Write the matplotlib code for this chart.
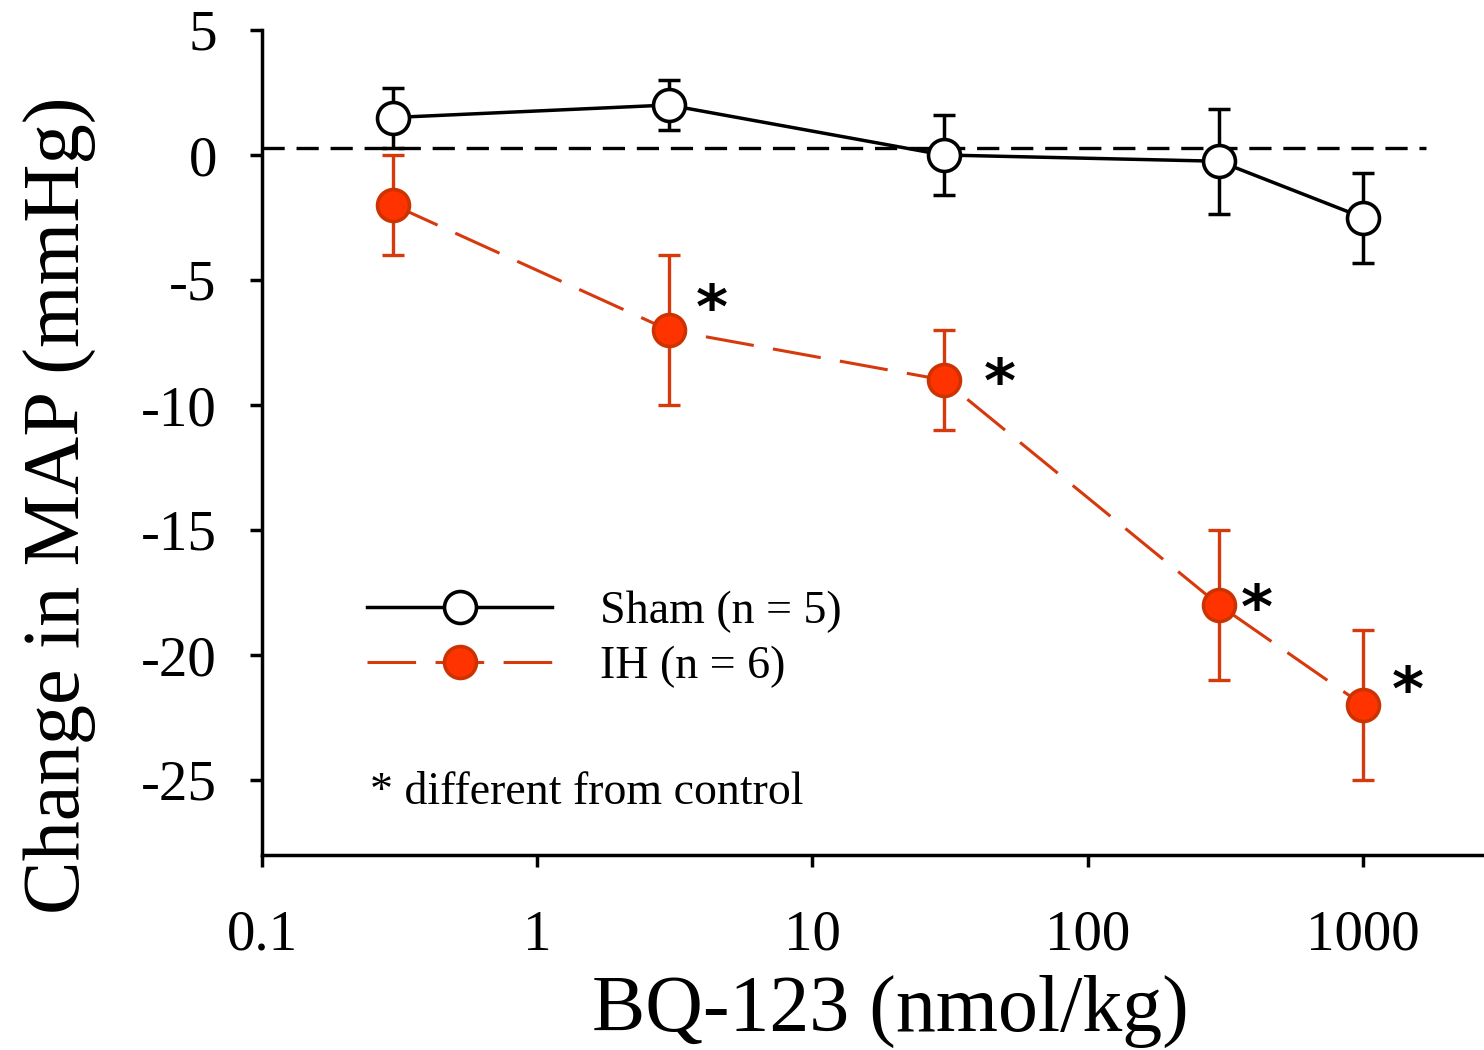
import matplotlib
matplotlib.use("Agg")
import matplotlib.pyplot as plt

plt.rcParams['font.family'] = ['Liberation Serif', 'DejaVu Serif']
plt.rcParams['axes.unicode_minus'] = False
plt.rcParams['lines.scale_dashes'] = False

doses = [0.3, 3, 30, 300, 1000]
sham_mean = [1.5, 2.0, 0.0, -0.25, -2.5]
sham_err = [1.2, 1.0, 1.6, 2.1, 1.8]
ih_mean = [-2.0, -7.0, -9.0, -18.0, -22.0]
ih_err = [2.0, 3.0, 2.0, 3.0, 3.0]
sig_flags = [False, True, True, True, True]
xticks = [0.1, 1, 10, 100, 1000]
xticklabels = ['0.1', '1', '10', '100', '1000']
yticks = [5, 0, -5, -10, -15, -20, -25]
ref_level = 0.28

red_line = '#D63A0C'
red_fill = '#FF3300'
red_edge = '#CC3300'

fig = plt.figure(figsize=(14.84, 10.5), dpi=100)
ax = fig.add_axes([262/1484, 1 - 855/1050, 1 - 262/1484, (855 - 30)/1050])

ax.set_xscale('log')
ax.set_xlim(0.1, 10**3.44)
ax.set_ylim(-28, 5)

# reference dashed line
ax.plot([0.1, 1700], [ref_level, ref_level], color='black', lw=2.4,
        dashes=(16, 8.5), zorder=1)

sham_style = dict(color='black', lw=2.5, marker='o', ms=23, mfc='white',
                  mec='black', mew=2.6)
ih_style = dict(color=red_line, lw=2.2, dashes=(35, 14), marker='o', ms=23,
                mfc=red_fill, mec=red_edge, mew=2.6)

# Sham
ax.errorbar(doses, sham_mean, yerr=sham_err, fmt='none', ecolor='black',
            elinewidth=2.5, capsize=8, capthick=2.5, zorder=2)
ax.plot(doses, sham_mean, zorder=3, label='Sham (n = 5)', **sham_style)

# IH
ax.errorbar(doses, ih_mean, yerr=ih_err, fmt='none', ecolor=red_line,
            elinewidth=2.4, capsize=8, capthick=2.4, zorder=2)
ax.plot(doses, ih_mean, zorder=3, label='IH (n = 6)', **ih_style)

# asterisks
offsets = [(0, 0), (31, 13), (40, -4), (27, -5), (32, 8)]
for x, y, s, off in zip(doses, ih_mean, sig_flags, offsets):
    if s:
        ax.annotate('*', (x, y), xytext=off, textcoords='offset points',
                    ha='center', va='center', fontsize=44, fontweight='bold',
                    family='DejaVu Sans')

ax.set_xticks(xticks)
ax.set_xticklabels(xticklabels)
ax.minorticks_off()
ax.set_yticks(yticks)
ax.set_yticklabels([str(v) for v in yticks])

for sp in ['top', 'right']:
    ax.spines[sp].set_visible(False)
for sp in ['left', 'bottom']:
    ax.spines[sp].set_linewidth(2.5)

ax.tick_params(axis='both', which='major', labelsize=41, width=2.5, length=8.5,
               direction='out')
ax.tick_params(axis='y', pad=24)
ax.tick_params(axis='x', pad=31)

ax.set_xlabel('BQ-123 (nmol/kg)', fontsize=57.5)
ax.xaxis.set_label_coords((890 - 262) / 1222, -(1048 - 855) / 825)
ax.xaxis.label.set_va('bottom')
ax.set_ylabel('Change in MAP (mmHg)', fontsize=58)
ax.yaxis.set_label_coords(-(262 - 97) / 1222, (855 - 505) / 825)

leg = ax.legend(loc='upper left', bbox_to_anchor=(0.086, 0.320), frameon=False,
                fontsize=33, handlelength=4.04, handletextpad=1.05,
                labelspacing=0.27, borderaxespad=0, borderpad=0)

ax.text(0.088, 0.075, '* different from control', transform=ax.transAxes,
        fontsize=33, ha='left', va='center')

fig.savefig('out.png', dpi=100)
